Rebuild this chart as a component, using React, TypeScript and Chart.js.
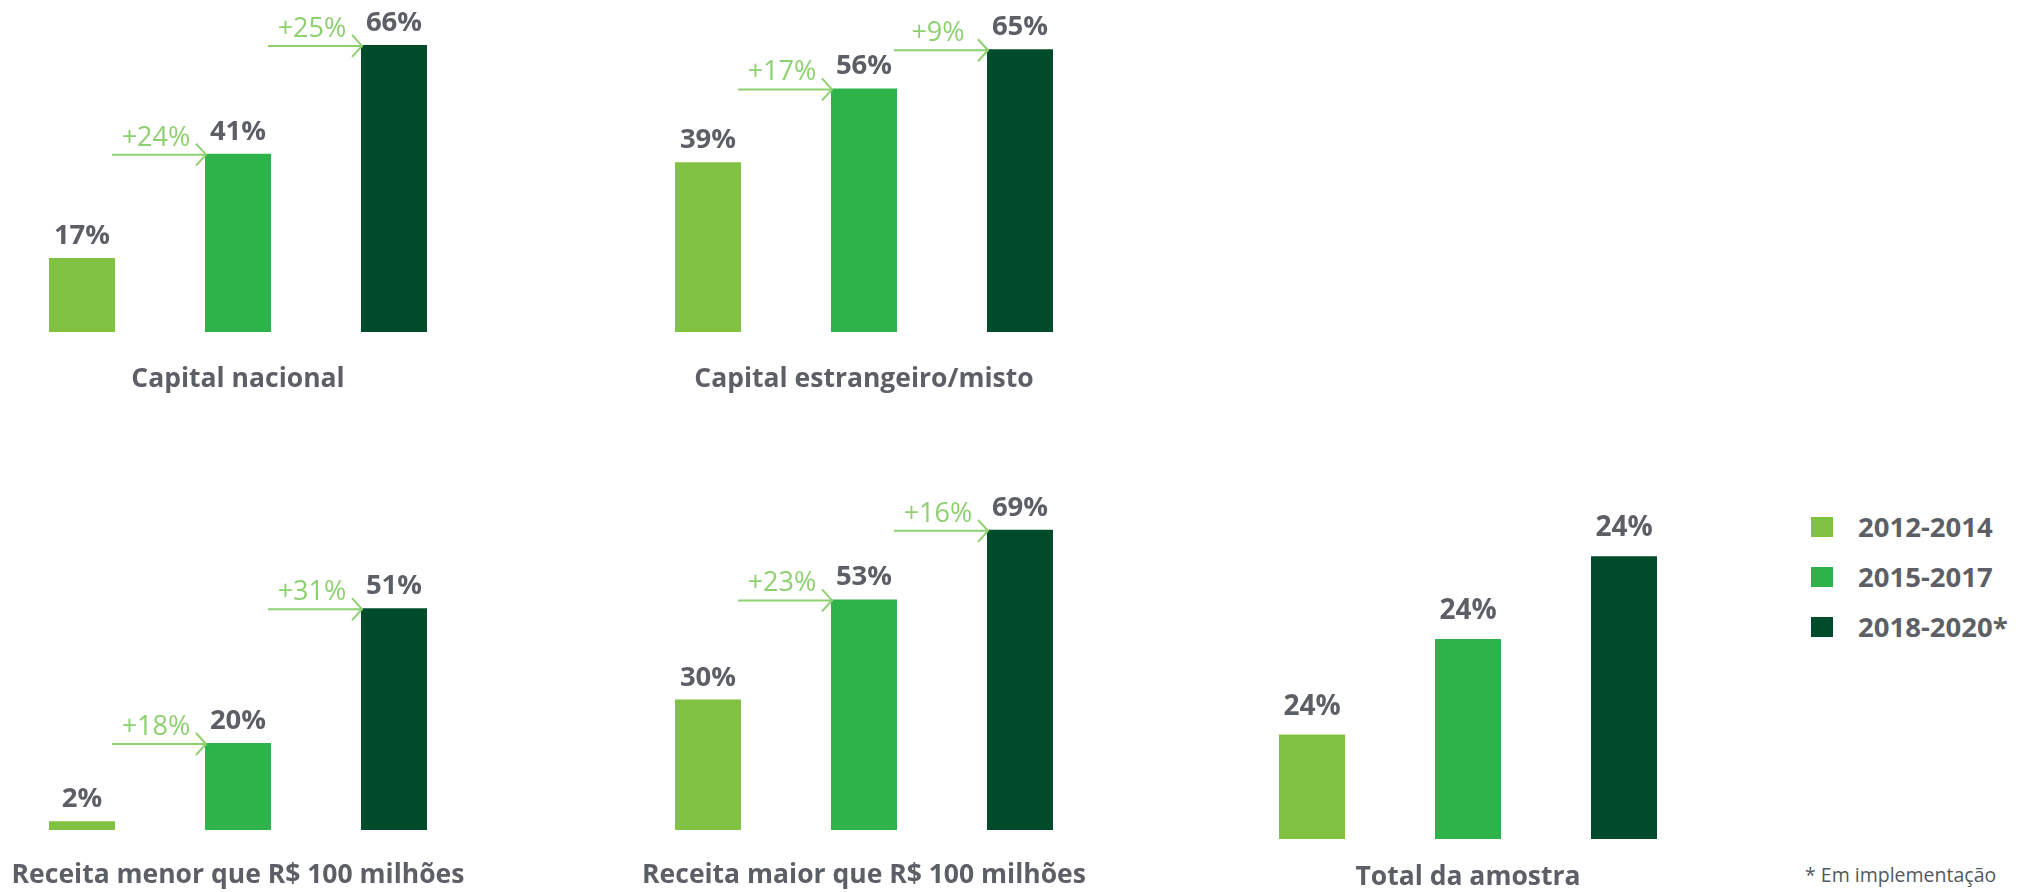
import React, { useEffect, useRef } from 'react';
import { Chart, registerables } from 'chart.js';

Chart.register(...registerables);

// ---------- DATA ----------
const periods = ['2012-2014', '2015-2017', '2018-2020*'];
const periodColors = ['#80c142', '#2eb34b', '#004b2c'];

const capitalNacional = [17, 41, 66];
const capitalNacionalLabels = ['17%', '41%', '66%'];
const capitalNacionalDeltas = ['+24%', '+25%'];

const capitalEstrangeiro = [39, 56, 65];
const capitalEstrangeiroLabels = ['39%', '56%', '65%'];
const capitalEstrangeiroDeltas = ['+17%', '+9%'];

const receitaMenor = [2, 20, 51];
const receitaMenorLabels = ['2%', '20%', '51%'];
const receitaMenorDeltas = ['+18%', '+31%'];

const receitaMaior = [30, 53, 69];
const receitaMaiorLabels = ['30%', '53%', '69%'];
const receitaMaiorDeltas = ['+23%', '+16%'];

const totalAmostra = [24, 46, 65];
const totalAmostraLabels = ['24%', '24%', '24%'];
const totalAmostraDeltas: string[] = [];

const footnote = '* Em implementação';

// ---------- STYLE ----------
const FONT = '"Open Sans", "Noto Sans", sans-serif';
const GRAY = '#5c5f66';
const DELTA = '#8dd070';
const PX_PER_UNIT = 4.35;

type PanelProps = {
  title: string;
  values: number[];
  labels: string[];
  deltas: string[];
  left: number;
  top: number;
  plotHeight: number;
  height: number;
  titleOffset: number;
  valueFont: number;
  valueGap: number;
};

function Panel(p: PanelProps) {
  const ref = useRef<HTMLCanvasElement | null>(null);
  useEffect(() => {
    const canvas = ref.current;
    if (!canvas) return;
    const decor = {
      id: 'decor',
      afterDatasetsDraw(chart: any) {
        const ctx = chart.ctx;
        const meta = chart.getDatasetMeta(0);
        const area = chart.chartArea;
        ctx.save();
        // value labels
        ctx.fillStyle = GRAY;
        ctx.font = `bold ${p.valueFont}px ${FONT}`;
        ctx.textAlign = 'center';
        ctx.textBaseline = 'alphabetic';
        meta.data.forEach((bar: any, i: number) => {
          ctx.fillText(p.labels[i], bar.x, bar.y - p.valueGap);
        });
        // delta arrows
        p.deltas.forEach((d, k) => {
          const prev: any = meta.data[k];
          const next: any = meta.data[k + 1];
          const x0 = prev.x + prev.width / 2 - 3;
          const x1 = next.x - next.width / 2 + 1;
          const y = next.y + 1;
          ctx.strokeStyle = DELTA;
          ctx.lineWidth = 2;
          ctx.beginPath();
          ctx.moveTo(x0, y);
          ctx.lineTo(x1, y);
          ctx.moveTo(x1 - 10, y - 11);
          ctx.lineTo(x1, y);
          ctx.lineTo(x1 - 10, y + 11);
          ctx.stroke();
          ctx.fillStyle = DELTA;
          ctx.font = `27px ${FONT}`;
          ctx.textAlign = 'center';
          ctx.fillText(d, (x0 + x1) / 2 - 3, y - 9);
        });
        // panel title
        ctx.fillStyle = GRAY;
        ctx.font = `bold 26.5px ${FONT}`;
        ctx.textAlign = 'center';
        ctx.fillText(p.title, (area.left + area.right) / 2, area.bottom + p.titleOffset);
        ctx.restore();
      },
    };
    const chart = new Chart(canvas, {
      type: 'bar',
      data: {
        labels: periods,
        datasets: [
          {
            label: p.title,
            data: p.values,
            backgroundColor: periodColors,
            borderWidth: 0,
            barPercentage: 0.423,
            categoryPercentage: 1,
          },
        ],
      },
      options: {
        responsive: false,
        animation: false,
        layout: { padding: { top: 0, bottom: p.height - p.plotHeight, left: 0, right: 0 } },
        scales: {
          x: { display: false },
          y: { display: false, min: 0, max: p.plotHeight / PX_PER_UNIT },
        },
        plugins: { legend: { display: false }, tooltip: { enabled: false } },
      },
      plugins: [decor],
    });
    return () => chart.destroy();
  }, []);
  return (
    <canvas
      ref={ref}
      width={468}
      height={p.height}
      style={{ position: 'absolute', left: p.left, top: p.top, width: 468, height: p.height }}
    />
  );
}

export default function App() {
  return (
    <div
      style={{
        position: 'absolute',
        left: 0,
        top: 0,
        width: 2037,
        height: 892,
        overflow: 'hidden',
        background: '#ffffff',
        fontFamily: FONT,
      }}
    >
      <Panel title="Capital nacional" values={capitalNacional} labels={capitalNacionalLabels}
        deltas={capitalNacionalDeltas} left={4} top={0} plotHeight={332} height={420}
        titleOffset={55} valueFont={27.5} valueGap={14} />
      <Panel title="Capital estrangeiro/misto" values={capitalEstrangeiro} labels={capitalEstrangeiroLabels}
        deltas={capitalEstrangeiroDeltas} left={630} top={0} plotHeight={332} height={420}
        titleOffset={55} valueFont={27.5} valueGap={14} />
      <Panel title="Receita menor que R$ 100 milhões" values={receitaMenor} labels={receitaMenorLabels}
        deltas={receitaMenorDeltas} left={4} top={440} plotHeight={390} height={452}
        titleOffset={53} valueFont={27.5} valueGap={14} />
      <Panel title="Receita maior que R$ 100 milhões" values={receitaMaior} labels={receitaMaiorLabels}
        deltas={receitaMaiorDeltas} left={630} top={440} plotHeight={390} height={452}
        titleOffset={53} valueFont={27.5} valueGap={14} />
      <Panel title="Total da amostra" values={totalAmostra} labels={totalAmostraLabels}
        deltas={totalAmostraDeltas} left={1234} top={440} plotHeight={399} height={452}
        titleOffset={46} valueFont={28} valueGap={20} />
      {periods.map((name, i) => (
        <div key={name} style={{ position: 'absolute', left: 1811, top: 517 + i * 50, height: 20 }}>
          <div style={{ position: 'absolute', left: 0, top: 0, width: 22, height: 20, background: periodColors[i] }} />
          <div
            style={{
              position: 'absolute',
              left: 47,
              top: -9,
              whiteSpace: 'nowrap',
              fontWeight: 700,
              fontSize: 27.5,
              lineHeight: '37px',
              color: GRAY,
            }}
          >
            {name}
          </div>
        </div>
      ))}
      <div
        style={{
          position: 'absolute',
          left: 1805,
          top: 861,
          fontSize: 19.5,
          lineHeight: '28px',
          color: '#555860',
          whiteSpace: 'nowrap',
        }}
      >
        {footnote}
      </div>
    </div>
  );
}
